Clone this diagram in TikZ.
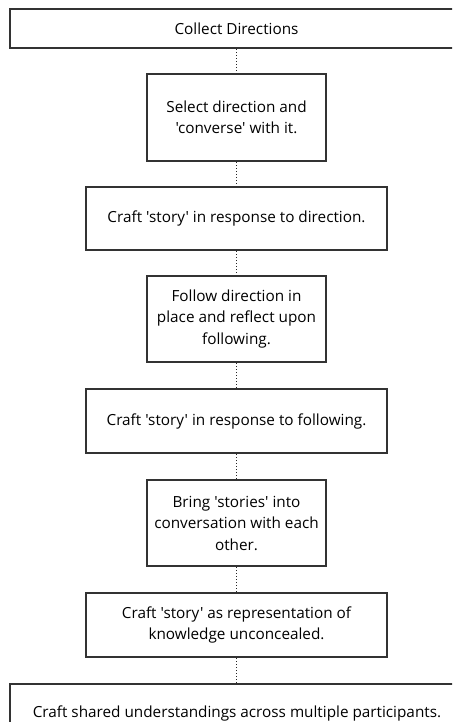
\documentclass[tikz,border=0pt]{standalone}
\usepackage{fontspec}
\setmainfont{Open Sans}[Ligatures=TeXOff]
\begin{document}
\begin{tikzpicture}[x=1pt,y=-1pt,
  box/.style={draw=black!80,line width=2pt,rectangle,inner sep=0pt,align=center,
    font=\fontsize{15.3}{21.5}\selectfont,text=black},
  lbl/.style={inner sep=0pt,align=center,font=\fontsize{15.3}{21.5}\selectfont,text=black},
  conn/.style={draw=black!85,line width=1pt,dotted}]
\useasboundingbox (0,0) rectangle (452,722);
\clip (0,0) rectangle (452,722);
\node[box,minimum width=453pt,minimum height=39pt] (n1) at (236.5,28.5) {Collect Directions};
\node[box,minimum width=179pt,minimum height=87pt] (n2) at (236.5,117.5) {Select direction and\\'converse' with it.};
\node[box,minimum width=301pt,minimum height=63pt] (n3) at (236.5,218.5) {Craft 'story' in response to direction.};
\node[box,minimum width=179pt,minimum height=86pt] (n4) at (236.5,319) {Follow direction in\\place and reflect upon\\following.};
\node[box,minimum width=301pt,minimum height=64pt] (n5) at (236.5,421) {Craft 'story' in response to following.};
\node[box,minimum width=179pt,minimum height=86pt] (n6) at (236.5,523) {Bring 'stories' into\\conversation with each\\other.};
\node[box,minimum width=301pt,minimum height=64pt] (n7) at (236.5,625) {Craft 'story' as representation of\\knowledge unconcealed.};
\node[box,minimum width=453pt,minimum height=60pt] (n8) at (236.5,714) {};
\node[lbl] (t8) at (237,713) {Craft shared understandings across multiple participants.};
\draw[conn] (n1.south) -- (n2.north);
\draw[conn] (n2.south) -- (n3.north);
\draw[conn] (n3.south) -- (n4.north);
\draw[conn] (n4.south) -- (n5.north);
\draw[conn] (n5.south) -- (n6.north);
\draw[conn] (n6.south) -- (n7.north);
\draw[conn] (n7.south) -- (n8.north);
\end{tikzpicture}
\end{document}
